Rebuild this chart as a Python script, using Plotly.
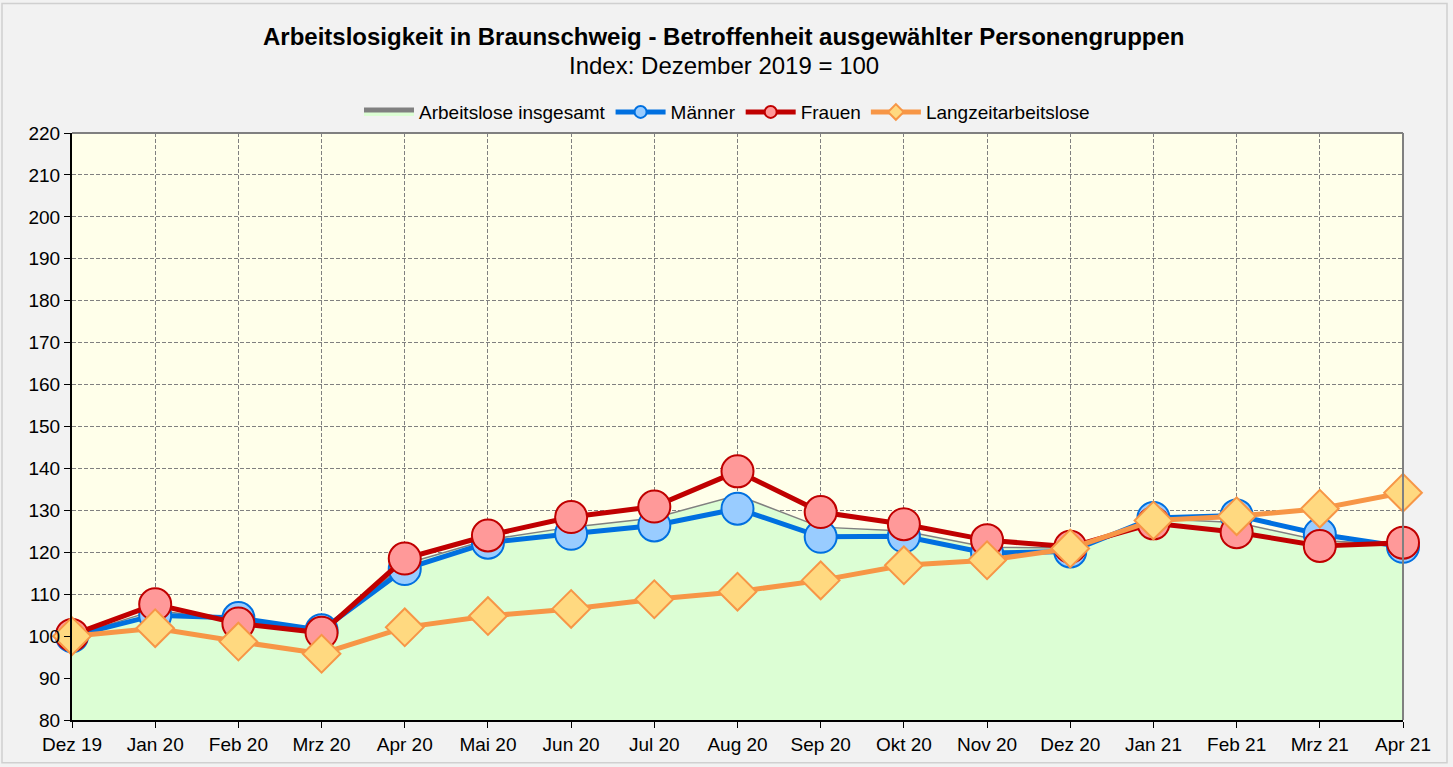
import plotly.graph_objects as go

months = ["Dez 19", "Jan 20", "Feb 20", "Mrz 20", "Apr 20", "Mai 20", "Jun 20", "Jul 20",
          "Aug 20", "Sep 20", "Okt 20", "Nov 20", "Dez 20", "Jan 21", "Feb 21", "Mrz 21", "Apr 21"]
insgesamt = [100, 106.2, 103.6, 101.0, 117.2, 123.0, 126.0, 128.2, 133.6, 126.0, 125.1, 121.2,
             121.0, 128.0, 127.1, 122.8, 121.8]
maenner = [100, 105.0, 104.3, 101.4, 116.0, 122.3, 124.4, 126.4, 130.4, 123.7, 123.8, 119.8,
           120.2, 128.2, 128.8, 124.3, 121.3]
frauen = [100.3, 107.6, 103.0, 100.8, 118.5, 124.0, 128.4, 130.9, 139.3, 129.6, 126.7, 122.9,
          121.3, 126.9, 124.8, 121.5, 122.3]
langzeit = [100, 101.9, 98.7, 95.8, 102.1, 104.8, 106.5, 108.8, 110.6, 113.3, 116.9, 118.1,
            120.9, 127.6, 128.6, 130.4, 134.2]
yticks = list(range(80, 221, 10))

x = list(range(len(months)))

fig = go.Figure()
fig.add_trace(go.Scatter(
    x=x, y=insgesamt, name="Arbeitslose insgesamt", mode="lines",
    line=dict(color="#808080", width=1.5), fill="tozeroy", fillcolor="#dcfed4",
    cliponaxis=False))
fig.add_trace(go.Scatter(
    x=x, y=maenner, name="Männer", mode="lines+markers",
    line=dict(color="#0070e0", width=5),
    marker=dict(symbol="circle", size=32, color="#99ccff", line=dict(color="#0070e0", width=2)),
    cliponaxis=False))
fig.add_trace(go.Scatter(
    x=x, y=frauen, name="Frauen", mode="lines+markers",
    line=dict(color="#c00000", width=5),
    marker=dict(symbol="circle", size=32, color="#ff9999", line=dict(color="#c00000", width=2)),
    cliponaxis=False))
fig.add_trace(go.Scatter(
    x=x, y=langzeit, name="Langzeitarbeitslose", mode="lines+markers",
    line=dict(color="#f79646", width=5),
    marker=dict(symbol="diamond", size=29, color="#ffd980", line=dict(color="#f79646", width=2)),
    cliponaxis=False))

L, R, T, B = 72, 50, 133, 45
W, H = 1453, 767
pw, ph = W - L - R, H - T - B

def px_x(p):
    return (p - L) / pw

def px_y(p):
    return (H - B - p) / ph

fig.update_layout(
    width=W, height=H,
    margin=dict(l=L, r=R, t=T, b=B),
    paper_bgcolor="#f2f2f2", plot_bgcolor="#ffffea",
    font=dict(family="Liberation Sans, Arial, sans-serif", size=19, color="#000000"),
    showlegend=True,
    legend=dict(orientation="h", x=px_x(727), xanchor="center", y=px_y(112), yanchor="middle",
                bgcolor="rgba(0,0,0,0)", font=dict(size=19), itemsizing="constant",
                itemwidth=50, tracegroupgap=0),
    xaxis=dict(range=[0, len(months) - 1], tickmode="array", tickvals=x, ticktext=months,
               showline=True, linecolor="#000000", linewidth=2, ticks="outside", ticklen=6,
               tickcolor="#000000", showgrid=True, gridcolor="#808080", griddash="4px,2px",
               gridwidth=1, zeroline=False, tickfont=dict(size=19)),
    yaxis=dict(range=[80, 220], tickmode="array", tickvals=yticks,
               showline=True, linecolor="#000000", linewidth=2, ticks="outside", ticklen=6,
               tickcolor="#000000", showgrid=True, gridcolor="#808080", griddash="4px,2px",
               gridwidth=1, zeroline=False, tickfont=dict(size=19)),
    annotations=[
        dict(text="<b>Arbeitslosigkeit in Braunschweig - Betroffenheit ausgewählter Personengruppen</b>",
             xref="paper", yref="paper", x=px_x(724), y=px_y(36), xanchor="center", yanchor="middle",
             showarrow=False, font=dict(size=24)),
        dict(text="Index: Dezember 2019 = 100",
             xref="paper", yref="paper", x=px_x(724), y=px_y(65), xanchor="center", yanchor="middle",
             showarrow=False, font=dict(size=24)),
    ],
    shapes=[
        dict(type="line", xref="paper", yref="paper", x0=0, x1=1, y0=1, y1=1,
             line=dict(color="#808080", width=2), layer="above"),
        dict(type="line", xref="paper", yref="paper", x0=1, x1=1, y0=0, y1=1,
             line=dict(color="#808080", width=2), layer="above"),
        dict(type="rect", xref="paper", yref="paper", x0=px_x(2), x1=px_x(1447),
             y0=px_y(765), y1=px_y(3), line=dict(color="#d0d0d0", width=1.5), layer="below"),
    ],
)

fig.write_html("out.html", config={"displayModeBar": False},
               post_script="document.body.style.margin='0';document.body.style.overflow='hidden';")
